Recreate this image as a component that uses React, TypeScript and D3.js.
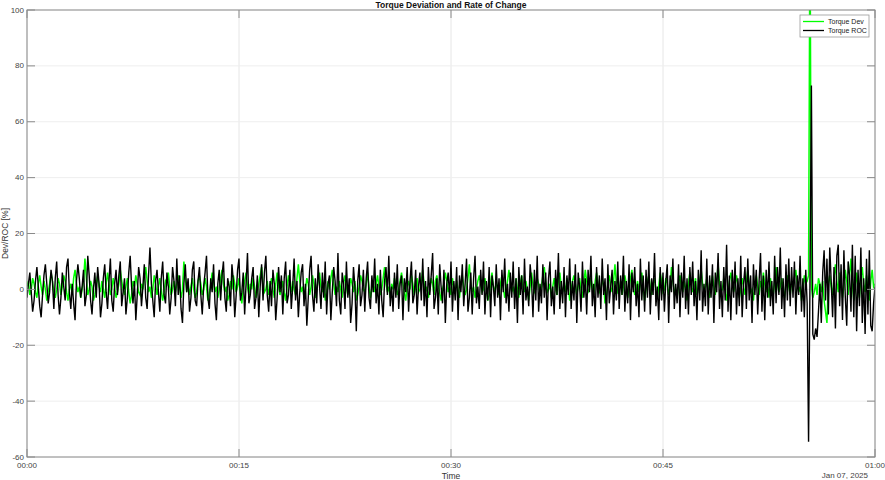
import React, { useEffect, useRef } from 'react';
import * as d3 from 'd3';

// one sample every 6 s over one hour (601 samples)
const STEP_SECONDS = 6;
const START = new Date(2025, 0, 7, 0, 0, 0);

const torqueDev = [
  1, 3, -2, 0, 4, 2, -1, -3, 2, 5, 1, -2, 3, 0, -4, -1, 2, 6, 3, -1,
  -3, 0, 4, 2, -2, 1, 5, 3, -1, -4, 0, 2, -2, 4, 7, 2, -1, 1, -3, 0,
  3, 11, 4, -2, 0, 3, 1, -4, -2, 2, 5, 1, -1, 3, 0, -3, 2, 6, 2, -2,
  0, 4, 1, -3, -1, 2, 7, 3, 0, -2, 1, 4, -1, -5, -2, 3, 1, 5, 2, -1,
  -2, 2, 0, 4, 8, 3, -1, 1, -3, 0, 5, 2, -2, 1, 4, 0, -4, -1, 3, 2,
  6, 1, -2, 0, 3, -1, 2, 5, 1, -3, 0, 10, 4, -1, 2, -2, 1, 4, 0, -3,
  -1, 3, 5, 2, -2, 0, 4, 1, -4, -1, 2, 6, 3, -1, 1, -3, 0, 4, 7, 2,
  -1, 1, -4, -2, 3, 0, 5, 2, -1, 1, 4, -2, -5, 0, 3, 6, 1, -2, 2, 0,
  4, 1, -3, -1, 2, 5, 8, 2, -1, 0, 3, -2, 1, 4, 0, -3, 2, 6, 1, -2,
  0, 3, -1, -4, 1, 5, 2, -1, 3, 0, -2, 4, 9, 3, -1, 1, -3, 0, 4, 2,
  -2, 1, 5, 2, -3, 0, 3, 6, 1, -1, 2, -4, -1, 3, 0, 4, 7, 2, -2, 1,
  -1, 3, 0, -3, 2, 5, 1, -2, 0, 4, 2, -1, 3, -4, -2, 1, 5, 3, 0, -1,
  2, 6, 1, -3, 0, 3, -1, 2, 5, 1, -2, 0, 4, 8, 2, -1, 1, -3, 2, 0,
  4, 1, -2, 0, 3, 6, 2, -1, -4, 1, 3, 0, 5, 2, -2, 1, 4, -1, 0, 3,
  7, 2, -1, 1, -3, 0, 4, 2, -2, 3, 5, 1, -1, -4, 0, 2, 6, 3, -1, 1,
  -2, 4, 1, -1, 3, 0, -3, 2, 5, 1, -2, 0, 4, 9, 2, -1, 1, -3, 0, 3,
  5, 2, -1, 0, 4, 1, -4, -2, 2, 6, 1, -1, 3, 0, -2, 2, 5, 1, -3, 0,
  3, 7, 2, -1, 1, -2, 4, 0, -3, 2, 5, 1, -1, 3, 0, -4, 1, 6, 2, -1,
  0, 4, 2, -2, 1, 5, 8, 3, -1, 0, 2, -3, 1, 4, 0, -2, 3, 6, 1, -1,
  2, -1, 4, 1, -4, 0, 3, 5, 2, -2, 1, 4, 0, -3, 2, 7, 3, -1, 0, 4,
  1, -2, 3, 6, 2, -1, 0, 4, 1, -5, -2, 2, 5, 1, -1, 3, 9, 2, -1, 0,
  3, -2, 1, 5, 2, -3, 0, 4, 7, 1, -2, 0, 3, -1, 2, 6, 1, -4, 0, 3,
  5, 1, -2, 2, 4, 0, -3, 1, 6, 3, -1, 0, 4, 2, -2, 1, 8, 3, -1, 0,
  -3, 2, 5, 1, -1, 3, 0, -4, 2, 6, 2, -1, 1, 4, -2, 0, 3, 7, 2, -1,
  1, 4, 0, -3, 2, 5, 1, -2, 3, 9, 2, -1, 0, 4, 1, -4, -1, 3, 6, 2,
  -1, 1, 5, 2, -3, 0, 4, 1, -2, 3, 7, 2, -1, 0, -4, 2, 5, 1, -2, 3,
  0, 6, 2, -1, 1, -3, 4, 0, -2, 3, 8, 2, -1, 1, 4, 0, -3, 2, 5, 1,
  -2, 3, 0, 4, 7, 2, -1, 1, -4, 0, 5, 2, 3, 5, 135, 1, -3, -1, 2, -2,
  4, 2, -1, 3, -4, -8, -12, 2, 5, 1, -2, 4, 9, 3, -1, 6, 2, -3, 1, 7,
  3, -2, 5, 11, 2, -4, 0, 6, 1, -3, 4, 8, 2, -1, 5, 0, -4, 3, 7, 1,
  2,
];

const torqueRoc = [
  -3, 2, 6, -1, -8, -4, 3, 8, 1, -6, -10, -2, 5, 9, 2, -5, -1, 7, 3, -7,
  4, 10, -2, -9, -3, 6, 1, -4, 8, 11, -1, -7, 2, -5, -11, 3, 9, 4, -3, 1,
  7, -6, -2, 12, 5, -4, -9, 0, 6, -3, 8, 2, -10, -5, 4, 9, -1, -7, 3, 11,
  -4, -8, 2, 7, -2, 5, 10, -6, -1, 4, -9, -3, 6, 12, 1, -5, 3, -11, -2, 8,
  4, -6, 1, 9, -3, -7, 5, 15, 2, -4, -10, 3, 7, -1, -8, 4, 10, -2, -5, 6,
  1, -9, -3, 8, 3, -6, 11, -2, 5, -7, -12, 2, 9, -1, 4, -8, -3, 7, 10, -4,
  -6, 3, 8, -2, -9, 1, 6, 12, -3, -7, 4, -1, 9, -5, -11, 2, 7, -4, 5, 10,
  -3, -8, 4, 1, -6, 9, 3, -10, -2, 7, 11, -4, -1, 6, -9, 2, 13, -5, -2, 4,
  8, -7, -3, 5, -10, 1, 9, -4, 6, 12, -2, -8, 3, -6, 7, 2, -11, -3, 8, -1,
  5, -9, 4, 10, -5, -2, 7, -7, 1, 11, -4, 3, -10, -1, 6, 9, -6, 2, -13, -3,
  7, 12, -2, -8, 4, -5, 9, 1, -7, 6, -3, 10, -9, 2, 5, -11, -1, 8, 3, -6,
  13, -4, -9, 6, 2, -7, 10, -3, 4, -12, -5, 8, 1, -15, 3, 9, -6, -2, 7, -8,
  4, 10, -3, -7, 5, -1, 11, -5, 2, -9, 7, -4, -10, 3, 8, -2, 12, -6, 1, -8,
  6, -3, 9, -7, 2, 5, -11, 4, -1, 8, -8, 3, 10, -5, -2, 7, -9, 1, 6, -4,
  11, -6, 3, -10, 8, -2, 5, 13, -7, -3, 4, -9, 9, 1, -5, 7, -12, 2, 6, -3,
  10, -8, 3, -4, 8, -11, 5, -1, 9, -6, 2, 11, -8, -3, 6, -9, 4, 12, -5, 1,
  -7, 7, -2, 10, -9, 3, -4, 8, -10, 5, 1, -6, 9, -3, 4, -11, 7, -1, 11, -5,
  2, -8, 6, -3, 10, -7, 4, -12, 8, -2, 5, -9, 11, -4, 1, -6, 9, 3, -10, 7,
  -4, 12, -8, 2, -5, 9, -3, 6, -11, 4, 10, -6, 1, -9, 7, -2, 13, -7, 3, -5,
  8, -10, 5, -2, 11, -7, 3, -4, 9, -12, 6, 1, -8, 10, -3, 4, -9, 7, -1, 12,
  -6, 2, -10, 8, -3, 5, -7, 11, -2, 4, -11, 9, -5, 1, 7, -9, 3, -4, 10, -7,
  5, -2, 12, -8, 3, -5, 9, -11, 6, -1, 8, -6, 2, -10, 11, -4, 5, -8, 7, -3,
  10, -9, 4, -2, 13, -6, 1, -11, 8, -4, 6, -8, 3, 9, -12, 5, -1, 11, -7, 2,
  -5, 9, -10, 6, -3, 12, -7, 4, -9, 8, -2, 10, -6, 3, -11, 7, -4, 14, -8, 2,
  -6, 11, -9, 5, -3, 9, -12, 6, -1, 13, -7, 3, -10, 8, -4, 16, -8, 5, -11, 7,
  -3, 10, -9, 4, -6, 12, -10, 2, 8, -7, 11, -4, 5, -12, 9, -2, 7, -9, 3, 13,
  -8, 5, -11, 7, -3, 10, -6, 3, -9, 12, -5, 8, -2, 15, -7, 4, -10, 9, -4, 11,
  -6, 8, -3, 10, -9, 5, -2, 12, -8, 4, -10, 7, -5, -54.5, 3, 73, -16, -18, -14, -17,
  -8, 2, -12, 6, 14, -4, 11, -9, 15, 3, -10, 8, -14, 12, 16, -6, 9, -11, 14, -3,
  -13, 10, 5, -8, 16, -10, 12, -15, 7, -6, 15, -12, 4, -16, 11, -9, 14, -13, -15, -5,
  1,
];

const yTicks = [-60, -40, -20, 0, 20, 40, 60, 80, 100];
const xTickMinutes = [0, 15, 30, 45, 60];
const legendItems = [
  { label: 'Torque Dev', color: '#00ff00' },
  { label: 'Torque ROC', color: '#000000' },
];

const WIDTH = 885;
const HEIGHT = 480;
const MARGIN = { top: 10, right: 10, bottom: 23, left: 27 };
const FONT = '"Liberation Sans", Arial, sans-serif';

const App: React.FC = () => {
  const svgRef = useRef<SVGSVGElement>(null);

  useEffect(() => {
    if (!svgRef.current) return;
    const svg = d3.select(svgRef.current);
    svg.selectAll('*').remove();

    const innerWidth = WIDTH - MARGIN.left - MARGIN.right;
    const innerHeight = HEIGHT - MARGIN.top - MARGIN.bottom;

    const timeAt = (i: number) => new Date(START.getTime() + i * STEP_SECONDS * 1000);
    const end = new Date(START.getTime() + 60 * 60 * 1000);

    const x = d3.scaleTime().domain([START, end]).range([0, innerWidth]);
    const y = d3.scaleLinear().domain([-60, 100]).range([innerHeight, 0]);

    const g = svg.append('g').attr('transform', `translate(${MARGIN.left},${MARGIN.top})`);

    svg.append('defs').append('clipPath').attr('id', 'plotClip')
      .append('rect').attr('width', innerWidth).attr('height', innerHeight);

    // grid
    const xTickDates = xTickMinutes.map(m => new Date(START.getTime() + m * 60000));
    g.selectAll('.vgrid').data(xTickDates).enter().append('line')
      .attr('x1', d => x(d)).attr('x2', d => x(d))
      .attr('y1', 0).attr('y2', innerHeight)
      .attr('stroke', '#e6e6e6').attr('stroke-width', 1);
    g.selectAll('.hgrid').data(yTicks).enter().append('line')
      .attr('x1', 0).attr('x2', innerWidth)
      .attr('y1', d => y(d)).attr('y2', d => y(d))
      .attr('stroke', '#eeeeee').attr('stroke-width', 1);

    // lines
    const line = d3.line<number>()
      .x((d, i) => x(timeAt(i)))
      .y(d => y(d));

    const plot = g.append('g').attr('clip-path', 'url(#plotClip)');
    plot.append('path').datum(torqueDev)
      .attr('fill', 'none').attr('stroke', '#00ff00').attr('stroke-width', 1.5)
      .attr('d', line);
    plot.append('path').datum(torqueRoc)
      .attr('fill', 'none').attr('stroke', '#000000').attr('stroke-width', 1.4)
      .attr('d', line);

    // box + ticks (inside, MATLAB style)
    const axisColor = '#8a8a8a';
    g.append('rect').attr('x', 0).attr('y', 0)
      .attr('width', innerWidth).attr('height', innerHeight)
      .attr('fill', 'none').attr('stroke', axisColor).attr('stroke-width', 1);

    yTicks.forEach(t => {
      g.append('line').attr('x1', 0).attr('x2', 8).attr('y1', y(t)).attr('y2', y(t))
        .attr('stroke', axisColor);
      g.append('line').attr('x1', innerWidth - 8).attr('x2', innerWidth).attr('y1', y(t)).attr('y2', y(t))
        .attr('stroke', axisColor);
      g.append('text').attr('x', -3).attr('y', y(t) + 2.5)
        .attr('text-anchor', 'end').attr('font-family', FONT).attr('font-size', 8)
        .attr('fill', '#444').text(t);
    });

    const fmt = d3.timeFormat('%H:%M');
    xTickDates.forEach(d => {
      g.append('line').attr('x1', x(d)).attr('x2', x(d)).attr('y1', innerHeight).attr('y2', innerHeight - 8)
        .attr('stroke', axisColor);
      g.append('line').attr('x1', x(d)).attr('x2', x(d)).attr('y1', 0).attr('y2', 8)
        .attr('stroke', axisColor);
      g.append('text').attr('x', x(d)).attr('y', innerHeight + 11)
        .attr('text-anchor', 'middle').attr('font-family', FONT).attr('font-size', 8)
        .attr('fill', '#444').text(fmt(d));
    });

    g.append('text').attr('x', innerWidth - 7).attr('y', innerHeight + 21)
      .attr('text-anchor', 'end').attr('font-family', FONT).attr('font-size', 8)
      .attr('fill', '#444').text(d3.timeFormat('%b %d, %Y')(START));

    // labels
    g.append('text').attr('x', innerWidth / 2).attr('y', innerHeight + 22)
      .attr('text-anchor', 'middle').attr('font-family', FONT).attr('font-size', 8.5)
      .attr('fill', '#333').text('Time');

    svg.append('text').attr('transform', `translate(8,${MARGIN.top + innerHeight / 2}) rotate(-90)`)
      .attr('text-anchor', 'middle').attr('font-family', FONT).attr('font-size', 8.5)
      .attr('fill', '#333').text('Dev/ROC [%]');

    svg.append('text').attr('x', MARGIN.left + innerWidth / 2).attr('y', 7.5)
      .attr('text-anchor', 'middle').attr('font-family', FONT).attr('font-size', 8.5)
      .attr('font-weight', 'bold').attr('fill', '#111').text('Torque Deviation and Rate of Change');

    // legend
    const lg = svg.append('g').attr('transform', 'translate(800,15)');
    lg.append('rect').attr('width', 69).attr('height', 22)
      .attr('fill', '#fff').attr('stroke', '#999').attr('stroke-width', 0.8);
    legendItems.forEach((item, i) => {
      const ly = 6.5 + i * 9;
      lg.append('line').attr('x1', 3).attr('x2', 24).attr('y1', ly).attr('y2', ly)
        .attr('stroke', item.color).attr('stroke-width', 1.3);
      lg.append('text').attr('x', 28).attr('y', ly + 2.5)
        .attr('font-family', FONT).attr('font-size', 7)
        .attr('fill', '#222').text(item.label);
    });
  }, []);

  return (
    <div style={{ position: 'absolute', left: 0, top: 0, width: WIDTH, height: HEIGHT, background: '#fff' }}>
      <svg ref={svgRef} width={WIDTH} height={HEIGHT} viewBox={`0 0 ${WIDTH} ${HEIGHT}`} />
    </div>
  );
};

export default App;
